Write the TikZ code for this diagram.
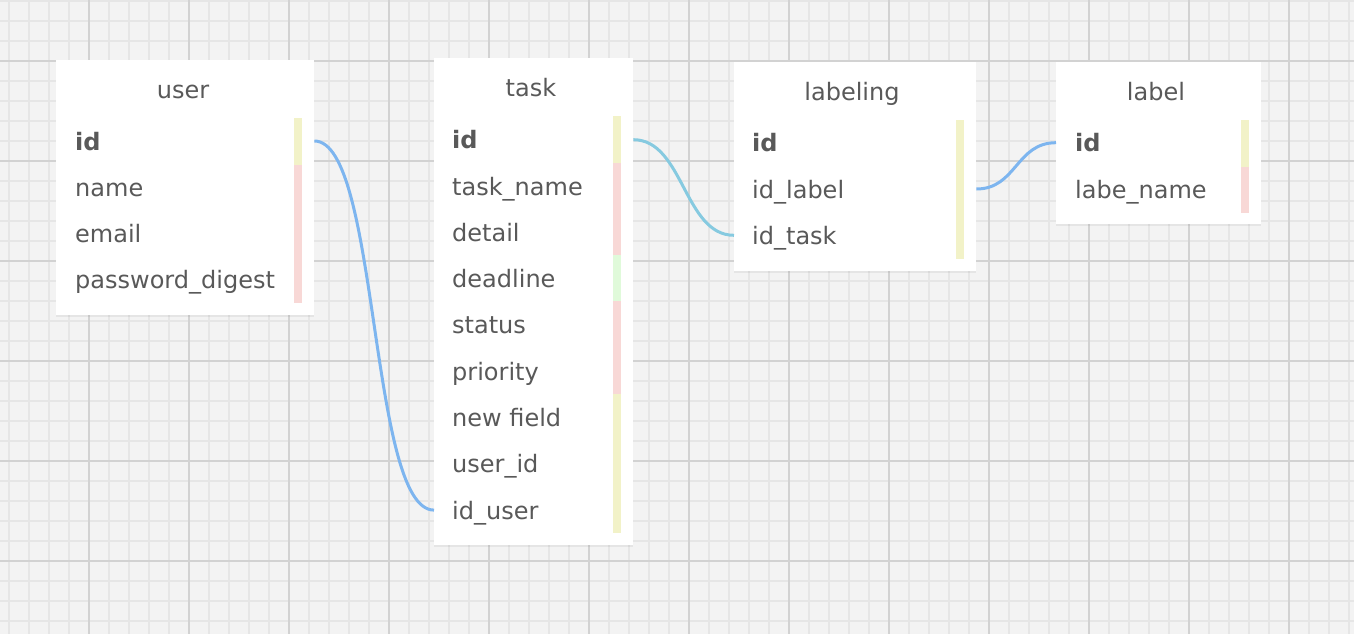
\documentclass[tikz,border=0pt]{standalone}
\usepackage{fontspec}
\setmainfont{DejaVu Sans}
\usetikzlibrary{calc}
\usetikzlibrary{shadows}
\definecolor{bggray}{HTML}{F3F3F3}
\definecolor{minorline}{HTML}{E6E6E6}
\definecolor{majorline}{HTML}{D2D2D2}
\definecolor{fieldtext}{HTML}{595959}
\definecolor{keybar}{HTML}{F2F2C8}
\definecolor{textbar}{HTML}{F8D8D6}
\definecolor{datebar}{HTML}{E0FADA}
\definecolor{relblue}{HTML}{7DB5EF}
\definecolor{relcyan}{HTML}{86CAE0}

\begin{document}
\begin{tikzpicture}[x=1pt,y=-1pt,
tablebox/.style={anchor=north west,fill=white,inner sep=0pt,
  drop shadow={shadow xshift=0pt,shadow yshift=-1.5pt,opacity=.12}},
tabletitle/.style={anchor=base,inner sep=0pt,text=fieldtext,font=\fontsize{24}{28}\selectfont},
fieldrow/.style={anchor=west,inner sep=0pt,text height=22pt,text depth=4pt,
  text=fieldtext,font=\fontsize{24}{28}\selectfont},
keyrow/.style={fieldrow,font=\fontsize{24}{28}\selectfont\bfseries},
relation/.style={line width=3pt}]
\useasboundingbox (0,0) rectangle (1354,634);
\fill[bggray] (0,0) rectangle (1354,634);
\foreach \x in {9,29,...,1349} \draw[minorline,line width=1.4pt] (\x,0) -- (\x,634);
\foreach \y in {1,21,...,621} \draw[minorline,line width=1.4pt] (0,\y) -- (1354,\y);
\foreach \x in {89,189,...,1289} \draw[majorline,line width=2pt] (\x,0) -- (\x,634);
\foreach \y in {61,161,...,561} \draw[majorline,line width=2pt] (0,\y) -- (1354,\y);

\node[tablebox,minimum width=258,minimum height=255] (user) at (56,60) {};
\node[tabletitle] (user-title) at (183,98) {user};
\node[keyrow] (user-1) at (75,141) {id};
\foreach \f [count=\i from 2] in {name,email,password\_digest}
  \node[fieldrow] (user-\i) at (75,{141+46.3*(\i-1)}) {\f};
\fill[keybar] (294,118) rectangle (302,165);
\fill[textbar] (294,165) rectangle (302,303);

\node[tablebox,minimum width=199,minimum height=487] (task) at (434,58) {};
\node[tabletitle] (task-title) at (531,96) {task};
\node[keyrow] (task-1) at (452,139.7) {id};
\foreach \f [count=\i from 2] in {task\_name,detail,deadline,status,priority,new field,user\_id,id\_user}
  \node[fieldrow] (task-\i) at (452,{139.7+46.3*(\i-1)}) {\f};
\fill[keybar] (613,116) rectangle (621,163);
\fill[textbar] (613,163) rectangle (621,255);
\fill[datebar] (613,255) rectangle (621,301);
\fill[textbar] (613,301) rectangle (621,394);
\fill[keybar] (613,394) rectangle (621,533);

\node[tablebox,minimum width=242,minimum height=209] (labeling) at (734,62) {};
\node[tabletitle] (labeling-title) at (852,100) {labeling};
\node[keyrow] (labeling-1) at (752,142.7) {id};
\foreach \f [count=\i from 2] in {id\_label,id\_task}
  \node[fieldrow] (labeling-\i) at (752,{142.7+46.3*(\i-1)}) {\f};
\fill[keybar] (956,120) rectangle (964,259);

\node[tablebox,minimum width=205,minimum height=162] (label) at (1056,62) {};
\node[tabletitle] (label-title) at (1156,100) {label};
\node[keyrow] (label-1) at (1075,142.7) {id};
\node[fieldrow] (label-2) at (1075,189) {labe\_name};
\fill[keybar] (1241,120) rectangle (1249,167);
\fill[textbar] (1241,167) rectangle (1249,213);

\draw[relation,relblue] (user.east |- user-1) .. controls +(65,0) and +(-65,0) .. (task.west |- task-9);
\draw[relation,relcyan] (task.east |- task-1) .. controls +(50,0) and +(-50,0) .. (labeling.west |- labeling-3);
\draw[relation,relblue] (labeling.east |- labeling-2) .. controls +(40,0) and +(-40,0) .. (label.west |- label-1);
\end{tikzpicture}
\end{document}
